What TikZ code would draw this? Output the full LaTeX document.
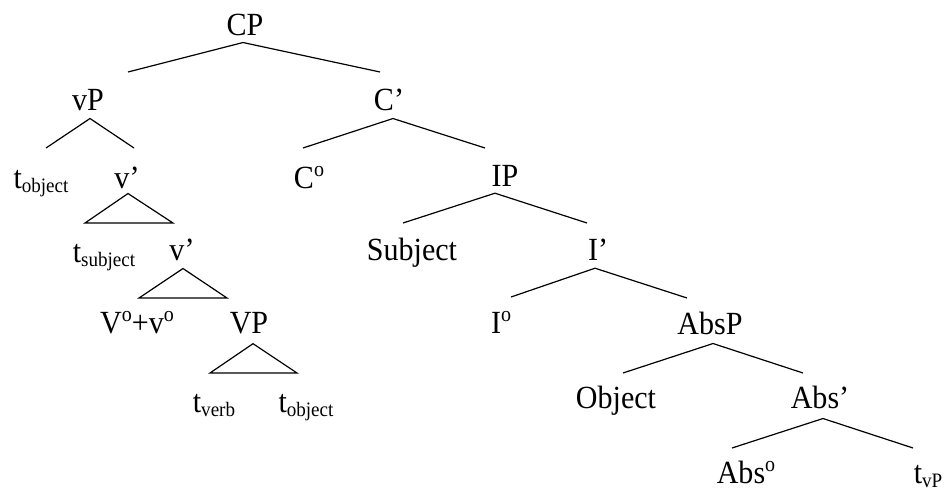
\documentclass[tikz,border=0pt]{standalone}
\usepackage{fontspec}
\setmainfont{Liberation Serif}[FakeStretch=0.93]
\usetikzlibrary{positioning,calc}

\newcommand{\trace}[1]{t\raisebox{-0.13em}{\fontsize{20.5}{24}\selectfont #1}}
\newcommand{\zero}{\raisebox{0.36em}{\fontsize{21.5}{25}\selectfont o}}

\begin{document}
\begin{tikzpicture}[
    x=1pt, y=-1pt,
    lbl/.style={anchor=base, inner sep=0pt, font=\fontsize{32.3}{38}\selectfont},
    branch/.style={line width=1.2pt},
    tri/.style={line width=1.2pt, line join=miter}
]
    \useasboundingbox (0,0) rectangle (951,491);

    % Top
    \node[lbl] (cp) at (245,35) {CP};
    \node[lbl] (vp) at (88,110) {vP};
    \node[lbl] (cbar) at (389,110) {C'};

    % Moved vP
    \node[lbl] (tobjA) at (41,188) {\trace{object}};
    \node[lbl] (vbarA) at (127,188) {v'};
    \node[lbl] (tsubj) at (104,262) {\trace{subject}};
    \node[lbl] (vbarB) at (182,260) {v'};
    \node[lbl] (vv) at (137,333) {V\zero+v\zero};
    \node[lbl] (vpb) at (249,333) {VP};
    \node[lbl] (tverb) at (214,412) {\trace{verb}};
    \node[lbl] (tobjB) at (306,412) {\trace{object}};

    % C' branch
    \node[lbl] (czero) at (309,188) {C\zero};
    \node[lbl] (ip) at (505,186) {IP};
    \node[lbl] (subj) at (412,260) {Subject};
    \node[lbl] (ibar) at (598,260) {I'};
    \node[lbl] (izero) at (501,333) {I\zero};
    \node[lbl] (absp) at (710,334) {AbsP};
    \node[lbl] (obj) at (616,408) {Object};
    \node[lbl] (absbar) at (820,408) {Abs'};
    \node[lbl] (abszero) at (746,483) {Abs\zero};
    \node[lbl] (tvp) at (928,483) {\trace{vP}};

    % Branch ends
    \coordinate (cpL) at (128,72);
    \coordinate (cpR) at (380,72);
    \coordinate (vpL) at (46,148);
    \coordinate (vpR) at (134,148);
    \coordinate (cbarL) at (303,148);
    \coordinate (cbarR) at (485,148);
    \coordinate (ipL) at (403,223);
    \coordinate (ipR) at (587,223);
    \coordinate (ibarL) at (511,297);
    \coordinate (ibarR) at (687,298);
    \coordinate (abspL) at (623,373);
    \coordinate (abspR) at (803,373);
    \coordinate (absbarL) at (732,448);
    \coordinate (absbarR) at (913,448);

    % Triangle bases
    \coordinate (triAL) at (85,223);
    \coordinate (triAR) at (173,223);
    \coordinate (triBL) at (139,298);
    \coordinate (triBR) at (227,298);
    \coordinate (triCL) at (210,373);
    \coordinate (triCR) at (297,373);

    % Branches
    \draw[branch] (cpL) -- ([xshift=-2pt,yshift=-7pt]cp.south) -- (cpR);
    \draw[branch] (vpL) -- ([xshift=2pt,yshift=-8pt]vp.south) -- (vpR);
    \draw[branch] (cbarL) -- ([xshift=4pt,yshift=-8pt]cbar.south) -- (cbarR);
    \draw[branch] (ipL) -- ([xshift=-10pt,yshift=-7pt]ip.south) -- (ipR);
    \draw[branch] (ibarL) -- ([xshift=-3pt,yshift=-8pt]ibar.south) -- (ibarR);
    \draw[branch] (abspL) -- ([xshift=3pt,yshift=-9pt]absp.south) -- (abspR);
    \draw[branch] (absbarL) -- ([xshift=3pt,yshift=-10pt]absbar.south) -- (absbarR);

    % Triangles
    \draw[tri] ([xshift=1pt,yshift=-5pt]vbarA.south) -- (triAL) -- (triAR) -- cycle;
    \draw[tri] ([xshift=1pt,yshift=-8pt]vbarB.south) -- (triBL) -- (triBR) -- cycle;
    \draw[tri] ([xshift=4pt,yshift=-10pt]vpb.south) -- (triCL) -- (triCR) -- cycle;
\end{tikzpicture}
\end{document}
